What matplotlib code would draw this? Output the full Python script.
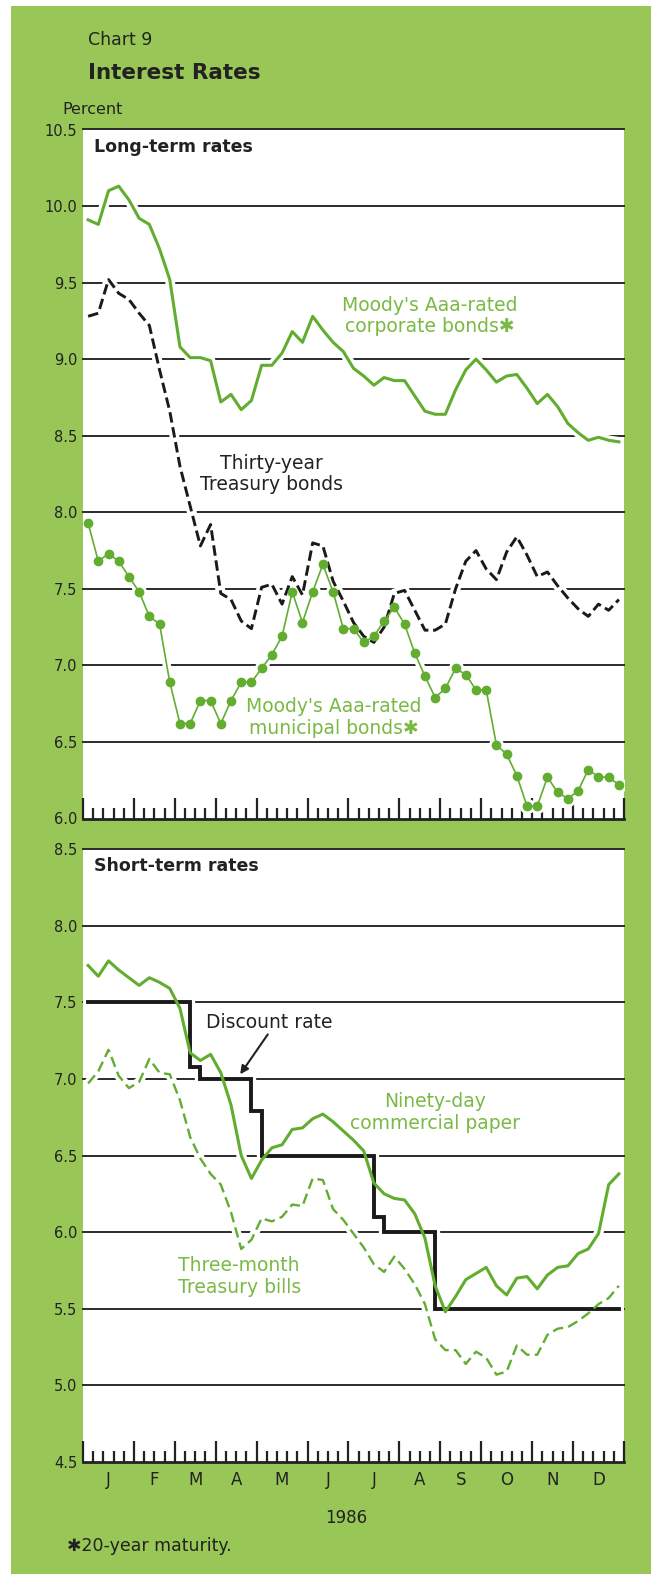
import numpy as np
import matplotlib
matplotlib.use("Agg")
import matplotlib.pyplot as plt
from matplotlib.patches import Rectangle
from matplotlib.transforms import blended_transform_factory

# ---- data: weekly averages, 1986 ----
months = ["J", "F", "M", "A", "M", "J", "J", "A", "S", "O", "N", "D"]
weeks_per_month = [5, 4, 4, 4, 5, 4, 5, 4, 4, 5, 4, 5]

corporate = [9.91, 9.88, 10.10, 10.13, 10.04, 9.92, 9.88, 9.72, 9.52, 9.08,
             9.01, 9.01, 8.99, 8.72, 8.77, 8.67, 8.73, 8.96, 8.96, 9.04,
             9.18, 9.11, 9.28, 9.19, 9.11, 9.05, 8.94, 8.89, 8.83, 8.88,
             8.86, 8.86, 8.76, 8.66, 8.64, 8.64, 8.80, 8.93, 9.00, 8.93,
             8.85, 8.89, 8.90, 8.81, 8.71, 8.77, 8.69, 8.58, 8.52, 8.47,
             8.49, 8.47, 8.46]

treasury_30y = [9.28, 9.30, 9.52, 9.43, 9.39, 9.30, 9.22, 8.93, 8.66, 8.30,
                8.04, 7.78, 7.92, 7.47, 7.43, 7.29, 7.24, 7.51, 7.53, 7.40,
                7.58, 7.46, 7.80, 7.78, 7.55, 7.42, 7.28, 7.19, 7.15, 7.25,
                7.47, 7.49, 7.36, 7.23, 7.23, 7.27, 7.50, 7.68, 7.75, 7.63,
                7.56, 7.74, 7.84, 7.72, 7.58, 7.61, 7.52, 7.44, 7.37, 7.32,
                7.40, 7.36, 7.43]

municipal = [7.93, 7.68, 7.73, 7.68, 7.58, 7.48, 7.32, 7.27, 6.89, 6.62,
             6.62, 6.77, 6.77, 6.62, 6.77, 6.89, 6.89, 6.98, 7.07, 7.19,
             7.48, 7.28, 7.48, 7.66, 7.48, 7.24, 7.24, 7.15, 7.19, 7.29,
             7.38, 7.27, 7.08, 6.93, 6.79, 6.85, 6.98, 6.94, 6.84, 6.84,
             6.48, 6.42, 6.28, 6.08, 6.08, 6.27, 6.17, 6.13, 6.18, 6.32,
             6.27, 6.27, 6.22]

commercial_paper = [7.74, 7.67, 7.77, 7.71, 7.66, 7.61, 7.66, 7.63, 7.59, 7.46,
                    7.17, 7.12, 7.16, 7.04, 6.83, 6.50, 6.35, 6.47, 6.55, 6.57,
                    6.67, 6.68, 6.74, 6.77, 6.72, 6.66, 6.60, 6.53, 6.32, 6.25,
                    6.22, 6.21, 6.12, 5.96, 5.65, 5.48, 5.58, 5.69, 5.73, 5.77,
                    5.65, 5.59, 5.70, 5.71, 5.63, 5.72, 5.77, 5.78, 5.86, 5.89,
                    5.99, 6.31, 6.38]

tbills = [6.97, 7.05, 7.19, 7.02, 6.94, 6.98, 7.13, 7.04, 7.03, 6.86,
          6.62, 6.48, 6.38, 6.31, 6.13, 5.89, 5.95, 6.09, 6.07, 6.10,
          6.18, 6.17, 6.35, 6.34, 6.15, 6.08, 5.99, 5.90, 5.79, 5.74,
          5.84, 5.76, 5.66, 5.53, 5.30, 5.23, 5.23, 5.14, 5.22, 5.18,
          5.07, 5.09, 5.26, 5.20, 5.20, 5.33, 5.37, 5.38, 5.42, 5.47,
          5.53, 5.57, 5.65]

discount_rate = ([7.50] * 10 + [7.08] + [7.00] * 5 + [6.79] + [6.50] * 11
                 + [6.10] + [6.00] * 5 + [5.50] * 19)

long_ticks = [6.0, 6.5, 7.0, 7.5, 8.0, 8.5, 9.0, 9.5, 10.0, 10.5]
short_ticks = [4.5, 5.0, 5.5, 6.0, 6.5, 7.0, 7.5, 8.0, 8.5]

weeks = np.arange(len(corporate))

# ---- styling ----
BG = "#99c757"
LINE_GREEN = "#62ad30"
TEXT_GREEN = "#79b944"
INK = "#222222"
plt.rcParams["font.family"] = ["DejaVu Sans"]

W, H = 651, 1574
fig = plt.figure(figsize=(W / 100, H / 100), dpi=100)
fig.patch.set_facecolor("white")
fig.add_artist(Rectangle((11 / W, 0), 1 - 11 / W, 1 - 6 / H,
                         transform=fig.transFigure, facecolor=BG,
                         edgecolor="none", zorder=0))


def panel(left, top, right, bottom):
    return fig.add_axes([left / W, 1 - bottom / H, (right - left) / W,
                         (bottom - top) / H])


ax1 = panel(83, 129.5, 624, 818.5)
ax2 = panel(83, 849, 624, 1462)

edges = np.concatenate([[-0.5], np.cumsum(weeks_per_month) - 0.5])
centers = (edges[:-1] + edges[1:]) / 2
minor = [t for t in np.arange(-0.5, len(weeks), 1.0) if t not in edges]


def style_axes(ax, yticks):
    ax.set_facecolor("white")
    ax.set_xlim(-0.5, len(weeks) - 0.5)
    ax.set_ylim(yticks[0], yticks[-1])
    for s in ("left", "right", "top"):
        ax.spines[s].set_visible(False)
    ax.spines["bottom"].set_linewidth(2.0)
    ax.spines["bottom"].set_color(INK)
    ax.spines["bottom"].set_zorder(6)
    ax.set_xticks(edges)
    ax.set_xticks(minor, minor=True)
    ax.tick_params(axis="x", which="major", direction="in", length=15,
                   width=1.6, color=INK, labelbottom=False)
    ax.tick_params(axis="x", which="minor", direction="in", length=8,
                   width=1.6, color=INK)
    ax.set_yticks(yticks)
    ax.set_yticklabels([f"{v:.1f}" for v in yticks])
    ax.tick_params(axis="y", length=0, pad=4, labelsize=10.5, labelcolor=INK)
    for v in yticks[1:]:
        ax.axhline(v, color="#2b2b2b", lw=1.4, zorder=1, clip_on=False)


style_axes(ax1, long_ticks)
style_axes(ax2, short_ticks)

HALO = dict(color="white", zorder=2, solid_capstyle="round",
            solid_joinstyle="round")
LABEL = dict(fontsize=13.5, ha="center", va="center", linespacing=1.15)

# ---- long-term rates ----
ax1.plot(weeks, corporate, lw=7, **HALO)
ax1.plot(weeks, treasury_30y, lw=7, **HALO)
ax1.plot(weeks, municipal, lw=6, marker="o", ms=10, mec="white",
         mfc="white", **HALO)

ax1.plot(weeks, corporate, color=LINE_GREEN, lw=2.2, zorder=4,
         solid_joinstyle="round")
ax1.plot(weeks, treasury_30y, color="#1a1a1a", lw=2.1, zorder=4,
         dashes=(3.6, 1.6), dash_joinstyle="round")
ax1.plot(weeks, municipal, color=LINE_GREEN, lw=1.2, marker="o", ms=6,
         mec=LINE_GREEN, mfc=LINE_GREEN, zorder=5)

ax1.text(0.02, 0.975, "Long-term rates", transform=ax1.transAxes,
         fontsize=12.5, fontweight="bold", color=INK, ha="left", va="center")
ax1.text(33.5, 9.28, "Moody's Aaa-rated\ncorporate bonds\u2731",
         color=TEXT_GREEN, **LABEL)
ax1.text(18.0, 8.25, "Thirty-year\nTreasury bonds", color=INK, **LABEL)
ax1.text(24.1, 6.66, "Moody's Aaa-rated\nmunicipal bonds\u2731",
         color=TEXT_GREEN, **LABEL)

# ---- short-term rates ----
ax2.plot(weeks, commercial_paper, lw=7, **HALO)
ax2.plot(weeks, tbills, lw=6.5, **HALO)
ax2.plot(weeks, discount_rate, lw=7.5, drawstyle="steps-post", **HALO)

ax2.plot(weeks, discount_rate, color="#1a1a1a", lw=2.8, zorder=4,
         drawstyle="steps-post", solid_joinstyle="miter")
ax2.plot(weeks, tbills, color=LINE_GREEN, lw=1.7, zorder=4,
         dashes=(4.5, 2.2))
ax2.plot(weeks, commercial_paper, color=LINE_GREEN, lw=2.2, zorder=5,
         solid_joinstyle="round")

ax2.text(0.02, 0.972, "Short-term rates", transform=ax2.transAxes,
         fontsize=12.5, fontweight="bold", color=INK, ha="left", va="center")
ax2.text(17.7, 7.37, "Discount rate", color=INK, **LABEL)
ax2.annotate("", xy=(14.9, 7.03), xytext=(17.6, 7.29),
             arrowprops=dict(arrowstyle="-|>", color=INK, lw=1.5,
                             mutation_scale=12, shrinkA=0, shrinkB=0),
             zorder=6)
ax2.text(34.0, 6.78, "Ninety-day\ncommercial paper", color=TEXT_GREEN,
         **LABEL)
ax2.text(14.8, 5.71, "Three-month\nTreasury bills", color=TEXT_GREEN,
         **LABEL)

# month labels and year under the lower panel
trans = blended_transform_factory(ax2.transData, ax2.transAxes)
for c, m in zip(centers, months):
    ax2.text(c, -0.029, m, transform=trans, fontsize=12, color=INK,
             ha="center", va="center")
ax2.text(0.486, -0.091, "1986", transform=ax2.transAxes, fontsize=12,
         color=INK, ha="center", va="center")

# ---- titles and notes ----
fig.text(88 / W, 1 - 40 / H, "Chart 9", fontsize=12.5, color=INK,
         ha="left", va="center")
fig.text(88 / W, 1 - 73 / H, "Interest Rates", fontsize=15.5,
         fontweight="bold", color=INK, ha="left", va="center")
fig.text(62 / W, 1 - 110 / H, "Percent", fontsize=11.5, color=INK,
         ha="left", va="center")
fig.text(67 / W, 1 - 1546 / H, "\u273120-year maturity.", fontsize=12.5,
         color=INK, ha="left", va="center")

fig.savefig("out.png", dpi=100, facecolor=fig.get_facecolor())
